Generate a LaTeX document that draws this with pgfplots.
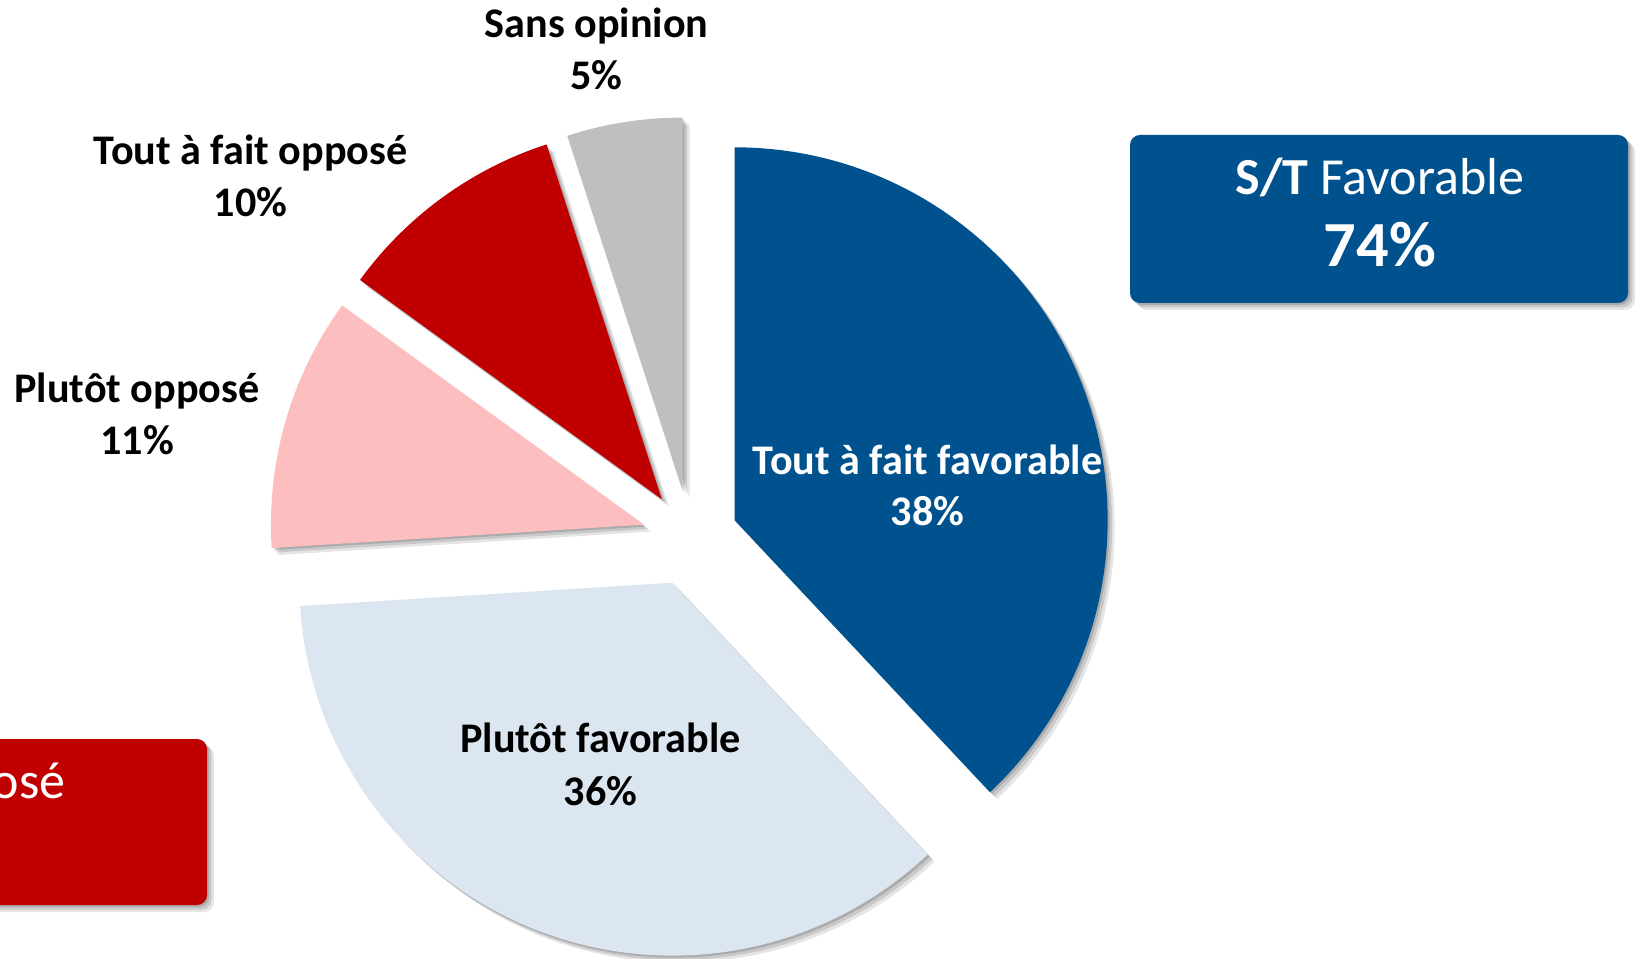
\documentclass[border=0pt]{standalone}
\usepackage{pgfplots}
\pgfplotsset{compat=1.18}
\usepackage{fontspec}
\setmainfont{Carlito}
\definecolor{cTF}{HTML}{00528F}
\definecolor{cPF}{HTML}{DCE6F1}
\definecolor{cPO}{HTML}{FCBEBE}
\definecolor{cTO}{HTML}{C00000}
\definecolor{cSO}{HTML}{BFBFBF}
% slice: start angle, percentage, colour
\newcommand\slice[3]{%
 \pgfmathsetmacro\ea{#1-3.6*#2}%
 \pgfmathsetmacro\ma{(#1+\ea)/2}%
 \pgfmathsetmacro\ox{690+48*cos(\ma)}%
 \pgfmathsetmacro\oy{-538+48*sin(\ma)}%
 \edef\tmp{%
  \noexpand\fill[black,opacity=0.10,xshift=0.7mm,yshift=-0.7mm] (axis cs:\ox,\oy) -- ++(#1:37.3mm) arc[start angle=#1,end angle=\ea,radius=37.3mm] -- cycle;
  \noexpand\fill[black,opacity=0.12,xshift=0.45mm,yshift=-0.45mm] (axis cs:\ox,\oy) -- ++(#1:37.3mm) arc[start angle=#1,end angle=\ea,radius=37.3mm] -- cycle;
  \noexpand\fill[black,opacity=0.15,xshift=0.2mm,yshift=-0.2mm] (axis cs:\ox,\oy) -- ++(#1:37.3mm) arc[start angle=#1,end angle=\ea,radius=37.3mm] -- cycle;
  \noexpand\fill[#3] (axis cs:\ox,\oy) -- ++(#1:37.3mm) arc[start angle=#1,end angle=\ea,radius=37.3mm] -- cycle;
 }\tmp}
\newcommand\shbox[5]{%
 \fill[black,opacity=0.10,rounded corners=1mm,xshift=0.7mm,yshift=-0.7mm] (axis cs:#1,#2) rectangle (axis cs:#3,#4);
 \fill[black,opacity=0.12,rounded corners=1mm,xshift=0.45mm,yshift=-0.45mm] (axis cs:#1,#2) rectangle (axis cs:#3,#4);
 \fill[black,opacity=0.15,rounded corners=1mm,xshift=0.2mm,yshift=-0.2mm] (axis cs:#1,#2) rectangle (axis cs:#3,#4);
 \fill[#5,rounded corners=1mm] (axis cs:#1,#2) rectangle (axis cs:#3,#4);}
\begin{document}
\begin{tikzpicture}
\begin{axis}[
  width=163.8mm, height=95.8mm, scale only axis,
  xmin=0, xmax=1638, ymin=-958, ymax=0,
  hide axis, clip=true]
\addplot[draw=none] coordinates {(0,-958) (1638,0)};
% pie slices (percentages)
\slice{90}{38}{cTF}
\slice{-46.8}{36}{cPF}
\slice{-176.4}{11}{cPO}
\slice{-216}{10}{cTO}
\slice{-252}{5}{cSO}
% summary boxes
\shbox{1130}{-135}{1628}{-303}{cTF}
\shbox{-291}{-739}{207}{-905}{cTO}
\tikzset{lab/.style={anchor=base,inner sep=0pt,font=\fontsize{12}{14}\selectfont\bfseries}}
\node[lab] at (axis cs:596.5,-37.3) {Sans opinion};
\node[lab] at (axis cs:596.5,-90) {5\%};
\node[lab] at (axis cs:250.7,-164.7) {Tout à fait opposé};
\node[lab] at (axis cs:250.7,-216.4) {10\%};
\node[lab] at (axis cs:137,-403) {Plutôt opposé};
\node[lab] at (axis cs:137,-455) {11\%};
\node[lab,text=white] at (axis cs:927.5,-475) {Tout à fait favorable};
\node[lab,text=white] at (axis cs:927.5,-526) {38\%};
\node[lab] at (axis cs:600.6,-752.8) {Plutôt favorable};
\node[lab] at (axis cs:600.6,-805.6) {36\%};
\node[anchor=base,inner sep=0pt,text=white,font=\fontsize{14.8}{17}\selectfont] at (axis cs:1380,-195) {\textbf{S/T} Favorable};
\node[anchor=base,inner sep=0pt,text=white,font=\fontsize{18.3}{21}\selectfont\bfseries] at (axis cs:1380,-266.7) {74\%};
\node[anchor=base east,inner sep=0pt,text=white,font=\fontsize{14.8}{17}\selectfont] at (axis cs:66,-798.3) {\textbf{S/T} Opposé};
\node[anchor=base,inner sep=0pt,text=white,font=\fontsize{18.3}{21}\selectfont\bfseries] at (axis cs:-65,-870) {21\%};
\end{axis}
\pgfresetboundingbox
\useasboundingbox (current axis.south west) rectangle (current axis.north east);
\end{tikzpicture}
\end{document}
